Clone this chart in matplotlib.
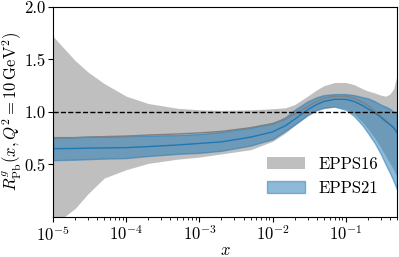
import numpy as np
import matplotlib
matplotlib.use("Agg")
import matplotlib.pyplot as plt

plt.rcParams["font.family"] = "serif"
plt.rcParams["font.serif"] = ["cmr10"]
plt.rcParams["mathtext.fontset"] = "cm"
plt.rcParams["axes.unicode_minus"] = False
plt.rcParams["axes.formatter.use_mathtext"] = True

# x grid (momentum fraction)
x = [1e-5, 2e-5, 3e-5, 5e-5, 1e-4, 2e-4, 5e-4, 1e-3, 2e-3, 5e-3, 1e-2, 1.5e-2,
     2e-2, 3e-2, 4e-2, 5e-2, 7e-2, 0.1, 0.13, 0.17, 0.2, 0.25, 0.3, 0.35,
     0.4, 0.45, 0.5]

# EPPS16 band
epps16_up = [1.72, 1.49, 1.38, 1.27, 1.15, 1.08, 1.035, 1.02, 1.015, 1.02, 1.03,
             1.04, 1.07, 1.15, 1.21, 1.25, 1.28, 1.28, 1.26, 1.22, 1.20, 1.18,
             1.16, 1.15, 1.17, 1.22, 1.35]
epps16_lo = [-0.08, 0.08, 0.22, 0.37, 0.45, 0.51, 0.55, 0.57, 0.60, 0.64, 0.72,
             0.80, 0.87, 0.96, 1.01, 1.03, 1.05, 1.03, 0.98, 0.90, 0.84, 0.75,
             0.66, 0.58, 0.51, 0.45, 0.38]
epps16_c = [0.75, 0.755, 0.76, 0.765, 0.77, 0.78, 0.79, 0.80, 0.815, 0.85, 0.89,
            0.93, 0.98, 1.05, 1.10, 1.13, 1.15, 1.15, 1.13, 1.09, 1.06, 1.01,
            0.96, 0.92, 0.88, 0.85, 0.82]

# EPPS21 band
epps21_up = [0.76, 0.76, 0.765, 0.765, 0.77, 0.775, 0.78, 0.79, 0.81, 0.85, 0.89,
             0.95, 1.02, 1.10, 1.14, 1.16, 1.17, 1.17, 1.16, 1.14, 1.13, 1.10,
             1.07, 1.05, 1.03, 1.00, 0.97]
epps21_lo = [0.54, 0.545, 0.55, 0.555, 0.56, 0.58, 0.60, 0.61, 0.63, 0.68, 0.74,
             0.82, 0.88, 0.97, 1.02, 1.04, 1.05, 1.02, 0.96, 0.87, 0.80, 0.70,
             0.60, 0.50, 0.42, 0.34, 0.26]
epps21_c = [0.65, 0.652, 0.655, 0.657, 0.66, 0.67, 0.685, 0.70, 0.715, 0.76, 0.81,
            0.87, 0.93, 1.02, 1.07, 1.10, 1.12, 1.12, 1.10, 1.06, 1.03, 0.99,
            0.95, 0.91, 0.88, 0.85, 0.80]

fig, ax = plt.subplots(figsize=(3.99, 2.57), dpi=100)
fig.subplots_adjust(left=0.133, right=0.995, top=0.973, bottom=0.156)

ax.fill_between(x, epps16_lo, epps16_up, color="gray", alpha=0.5, lw=0,
                label="EPPS16")
ax.plot(x, epps16_c, color="gray", lw=1)
ax.fill_between(x, epps21_lo, epps21_up, color="tab:blue", alpha=0.5,
                label="EPPS21")
ax.plot(x, epps21_c, color="tab:blue", lw=1)
ax.axhline(1.0, color="k", ls="--", lw=1)

ax.set_xscale("log")
ax.set_xlim(1e-5, 0.5)
ax.set_ylim(0, 2.0)
ax.set_yticks([0.5, 1.0, 1.5, 2.0])
ax.set_yticklabels(["0.5", "1.0", "1.5", "2.0"])
ax.tick_params(labelsize=12, pad=2)
ax.set_xlabel(r"$x$", fontsize=12, labelpad=-1)
ax.set_ylabel(r"$R^{g}_{\rm Pb}(x,Q^2=10\,{\rm GeV}^2)$", fontsize=12,
              labelpad=0)
ax.legend(loc="lower right", frameon=False, fontsize=12, handlelength=2.3,
          bbox_to_anchor=(0.99, 0.03))

plt.savefig("out.png", dpi=100)
